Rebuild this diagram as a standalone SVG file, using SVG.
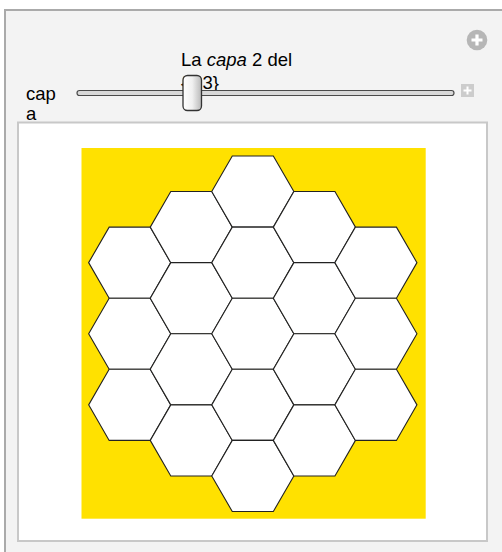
<svg xmlns="http://www.w3.org/2000/svg" width="502" height="552" viewBox="0 0 502 552">
  <style>
    .lbl { font-family: "Liberation Sans", Arial, sans-serif; font-size: 18.5px; fill: #000; }
    .hex { fill: #ffffff; stroke: #222222; stroke-width: 1.1; }
  </style>
  <defs>
    <polygon id="hexShape" points="-41.05,0 -20.525,-35.55 20.525,-35.55 41.05,0 20.525,35.55 -20.525,35.55"/>
    <linearGradient id="thumbGrad" x1="0" y1="0" x2="1" y2="0">
      <stop offset="0" stop-color="#ffffff"/>
      <stop offset="0.5" stop-color="#f0f0f0"/>
      <stop offset="1" stop-color="#b8b8b8"/>
    </linearGradient>
  </defs>

  <rect x="0" y="0" width="502" height="552" fill="#ffffff"/>
  <g id="panel">
    <rect x="5" y="10" width="500" height="550" fill="#f3f3f3" stroke="#aaaaaa" stroke-width="2"/>
  </g>

  <g id="controls">
    <circle cx="477" cy="40" r="10.3" fill="#b6b6b6"/>
    <path d="M477,34.5 V45.5 M471.5,40 H482.5" stroke="#ffffff" stroke-width="3.2"/>
    <rect x="461" y="84" width="13" height="13" fill="#cccccc"/>
    <path d="M467.5,86.5 V94.5 M463.5,90.5 H471.5" stroke="#ffffff" stroke-width="2"/>
    <text class="lbl" x="26" y="100">cap</text>
    <text class="lbl" x="26" y="120">a</text>
    <text class="lbl" x="181" y="66">La <tspan font-style="italic">capa</tspan> 2 del</text>
    <text class="lbl" x="181" y="88.5">{<tspan x="202.5">3}</tspan></text>
    <rect x="77" y="90.5" width="377" height="5" rx="2.5" fill="#d8d8d8" stroke="#4a4a4a" stroke-width="1.2"/>
    <rect x="183" y="75.5" width="18.5" height="35" rx="4.5" fill="url(#thumbGrad)" stroke="#333333" stroke-width="1.3"/>
  </g>

  <g id="output">
    <rect x="18" y="122.5" width="469" height="418.5" fill="#ffffff" stroke="#c8c8c8" stroke-width="2"/>
    <rect x="81.5" y="148" width="344.2" height="370.7" fill="#ffe100"/>
  </g>

  <g id="hexes">
    <use href="#hexShape" class="hex" x="129.7" y="262.65"/>
    <use href="#hexShape" class="hex" x="129.7" y="333.75"/>
    <use href="#hexShape" class="hex" x="129.7" y="404.85"/>
    <use href="#hexShape" class="hex" x="191.3" y="227.1"/>
    <use href="#hexShape" class="hex" x="191.3" y="298.2"/>
    <use href="#hexShape" class="hex" x="191.3" y="369.3"/>
    <use href="#hexShape" class="hex" x="191.3" y="440.4"/>
    <use href="#hexShape" class="hex" x="252.8" y="191.55"/>
    <use href="#hexShape" class="hex" x="252.8" y="262.65"/>
    <use href="#hexShape" class="hex" x="252.8" y="333.75"/>
    <use href="#hexShape" class="hex" x="252.8" y="404.85"/>
    <use href="#hexShape" class="hex" x="252.8" y="475.95"/>
    <use href="#hexShape" class="hex" x="314.4" y="227.1"/>
    <use href="#hexShape" class="hex" x="314.4" y="298.2"/>
    <use href="#hexShape" class="hex" x="314.4" y="369.3"/>
    <use href="#hexShape" class="hex" x="314.4" y="440.4"/>
    <use href="#hexShape" class="hex" x="375.9" y="262.65"/>
    <use href="#hexShape" class="hex" x="375.9" y="333.75"/>
    <use href="#hexShape" class="hex" x="375.9" y="404.85"/>
  </g>
</svg>
